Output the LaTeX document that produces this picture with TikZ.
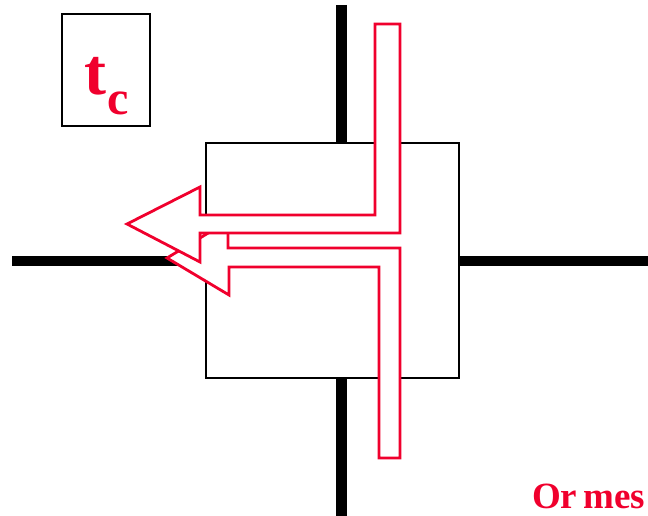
\documentclass[tikz,border=0pt]{standalone}
\usepackage{fontspec}
\setmainfont{Liberation Serif}
\usetikzlibrary{positioning}
\definecolor{slidered}{RGB}{240, 0, 45}

\begin{document}
\begin{tikzpicture}[x=1pt, y=-1pt,
    wire/.style={line width=10.5pt},
    hollowarrow/.style={draw=slidered, fill=white, line width=2.8pt, miter limit=10},
    every node/.style={inner sep=0pt}]
    \useasboundingbox (0,0) rectangle (648,516);
    \clip (0,0) rectangle (648,516);

    % Crossing wires
    \coordinate (north) at (341.5,5);
    \coordinate (south) at (341.5,516);
    \coordinate (west) at (12,261);
    \coordinate (east) at (648,261);
    \draw[wire] (north) -- (south);
    \draw[wire] (west) -- (east);

    % Switch box
    \node[draw, fill=white, line width=1.8pt,
          minimum width=253pt, minimum height=235pt] (switch) at (332.5,260.5) {};

    % Lower path: from below, turning left
    \draw[hollowarrow] (379,458) -- (400,458) -- (400,248) -- (228,248) -- (228,221)
      -- (167,258) -- (229,295) -- (229,267) -- (379,267) -- cycle;
    % Upper path: from above, turning left
    \draw[hollowarrow] (375,24) -- (400,24) -- (400,233) -- (200,233) -- (200,262)
      -- (127,224) -- (200,187) -- (200,215) -- (375,215) -- cycle;

    % Time label
    \node[draw, line width=2.2pt, minimum width=88pt, minimum height=112pt] (tcbox) at (106,70) {};
    \node[text=slidered, font=\bfseries\fontsize{66}{66}\selectfont, anchor=base] (tclabel)
      at (107,95) {t\kern1pt\raisebox{-20pt}{\fontsize{48}{48}\selectfont c}};

    % Caption, cut off at the edge
    \node[text=slidered, font=\bfseries\fontsize{37}{37}\selectfont, anchor=base west] (caption)
      at (532,508) {Or\hspace{6pt}mes};
\end{tikzpicture}
\end{document}
